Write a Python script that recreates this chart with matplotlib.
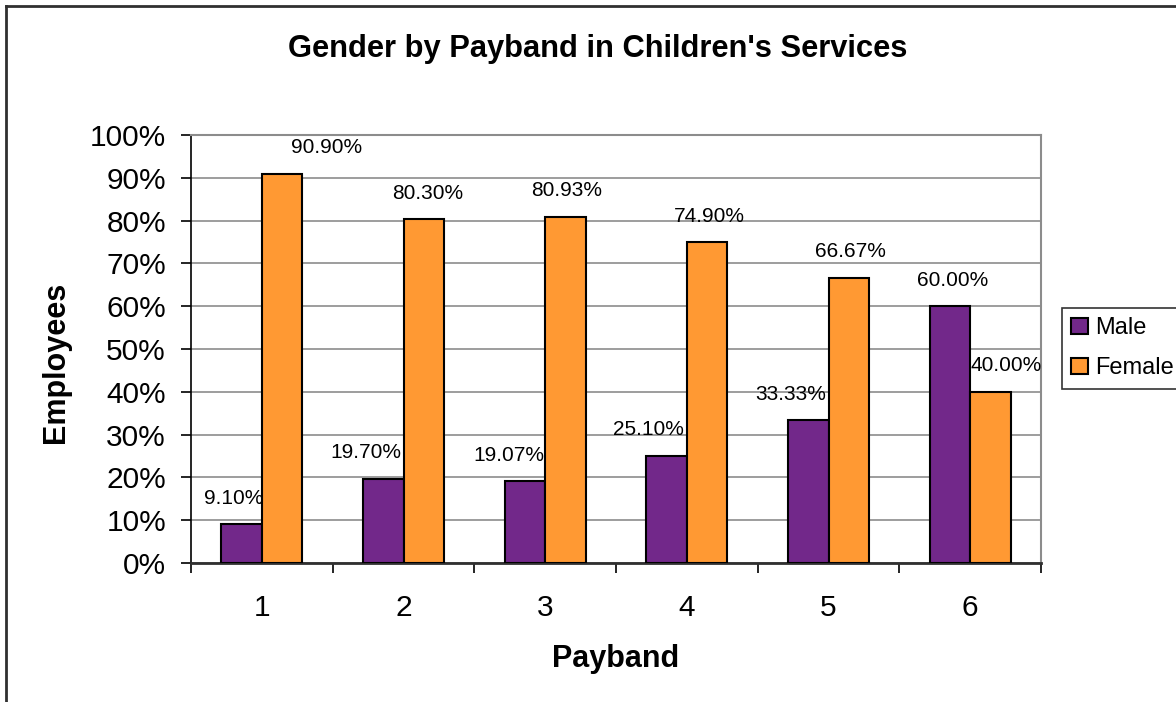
import matplotlib
matplotlib.use("Agg")
import matplotlib.pyplot as plt
import numpy as np
from matplotlib.lines import Line2D

categories = ["1", "2", "3", "4", "5", "6"]
male = [9.10, 19.70, 19.07, 25.10, 33.33, 60.00]
female = [90.90, 80.30, 80.93, 74.90, 66.67, 40.00]
y_ticks = [0, 10, 20, 30, 40, 50, 60, 70, 80, 90, 100]

# label layout offsets (pixels from bar centre)
male_dx = [-8, -17, -16, -18, -18, 3]
female_dx = [44, 4, 1, 2, 2, 16]
label_dy = 26

plt.rcParams['font.family'] = ['Liberation Sans', 'DejaVu Sans']

W, H = 1176, 702
fig = plt.figure(figsize=(W / 100, H / 100), dpi=100)
ax = fig.add_axes([191 / W, 1 - 563 / H, (1041 - 191) / W, (563 - 135) / H])

x = np.arange(len(categories))
bw = 1 / 3.5
c_male = "#72288a"
c_female = "#ff9933"
ax.bar(x - bw / 2, male, bw, color=c_male, edgecolor="black", linewidth=1.5, label="Male", zorder=3)
ax.bar(x + bw / 2, female, bw, color=c_female, edgecolor="black", linewidth=1.5, label="Female", zorder=3)

for i in range(len(categories)):
    ax.annotate(f"{male[i]:.2f}%", xy=(x[i] - bw / 2, male[i]), xytext=(male_dx[i], label_dy),
                textcoords="offset pixels", ha="center", va="center", fontsize=15, zorder=5)
    ax.annotate(f"{female[i]:.2f}%", xy=(x[i] + bw / 2, female[i]), xytext=(female_dx[i], label_dy),
                textcoords="offset pixels", ha="center", va="center", fontsize=15, zorder=5)

ax.set_xlim(-0.5, len(categories) - 0.5)
ax.set_ylim(0, 100)
ax.set_yticks(y_ticks)
ax.set_yticklabels([f"{v}%" for v in y_ticks], fontsize=21.5)
ax.set_xticks(x)
ax.set_xticklabels(categories, fontsize=21.5)
ax.tick_params(axis="x", length=0, pad=22)
ax.set_xticks(np.arange(-0.5, len(categories), 1), minor=True)
ax.tick_params(axis="x", which="minor", length=7, width=1.2, direction="out", color="black")
ax.tick_params(axis="y", length=7, width=1.2, direction="out", pad=11)
ax.yaxis.grid(True, color="#8c8c8c", linewidth=1.2, zorder=0)
ax.set_axisbelow(True)
for s in ["top", "right"]:
    ax.spines[s].set_color("#8c8c8c")
    ax.spines[s].set_linewidth(1.5)
ax.spines["left"].set_color("black")
ax.spines["bottom"].set_color("#303030")
ax.spines["left"].set_linewidth(1.2)
ax.spines["bottom"].set_linewidth(2)

ax.set_xlabel("Payband", fontsize=22, fontweight="bold")
ax.xaxis.set_label_coords(616 / W, 1 - 644 / H, transform=fig.transFigure)
ax.set_ylabel("Employees", fontsize=22, fontweight="bold")
ax.yaxis.set_label_coords(71 / W, 1 - 362 / H, transform=fig.transFigure)

fig.text(598 / W, 1 - 49 / H, "Gender by Payband in Children's Services", ha="center", va="center",
         fontsize=22.2, fontweight="bold")

leg = fig.legend(loc="upper left", bbox_to_anchor=(1062 / W, 1 - 308 / H), fontsize=17,
                 frameon=True, fancybox=False, shadow=False, handlelength=0.7, handleheight=0.7,
                 handletextpad=0.3, borderpad=0.4, labelspacing=0.75, borderaxespad=0)
leg.get_frame().set_edgecolor("black")
leg.get_frame().set_linewidth(1.2)

# outer chart frame
fig.add_artist(Line2D([6 / W, 6 / W], [0, 1 - 6 / H], transform=fig.transFigure, color="#303030", lw=2))
fig.add_artist(Line2D([6 / W, 1], [1 - 6 / H, 1 - 6 / H], transform=fig.transFigure, color="#303030", lw=2))

fig.savefig("out.png", dpi=100)
